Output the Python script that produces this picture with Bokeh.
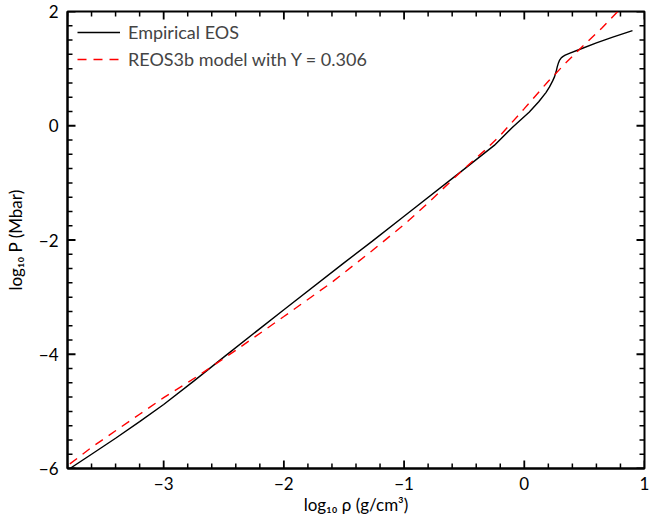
from bokeh.plotting import figure
from bokeh.models import LinearAxis, Range1d, FixedTicker, Legend, LegendItem, ColumnDataSource
from bokeh.embed import file_html
from bokeh.resources import INLINE

# Empirical EOS (black solid)
emp_logrho = [-3.78, -3.6, -3.4, -3.2, -3.0, -2.75, -2.5, -2.0, -1.5, -1.264, -1.0, -0.5, -0.25,
              -0.1, 0.04, 0.12, 0.18, 0.21, 0.236, 0.252, 0.264, 0.274, 0.284, 0.294,
              0.306, 0.32, 0.34, 0.38, 0.458, 0.6, 0.736, 0.9]
emp_logP = [-6.0, -5.75, -5.47, -5.18, -4.88, -4.47, -4.05, -3.22, -2.40, -2.02, -1.585, -0.76, -0.344,
            -0.03, 0.235, 0.42, 0.58, 0.68, 0.785, 0.86, 0.94, 1.03, 1.10, 1.15,
            1.185, 1.21, 1.235, 1.27, 1.335, 1.45, 1.55, 1.665]

# REOS3b model with Y = 0.306 (red dashed)
reos_logrho = [-3.78, -3.6, -3.4, -3.2, -3.0, -2.7, -2.4, -2.0, -1.6, -1.264, -1.0, -0.8,
               -0.5, -0.333, -0.2, 0.0, 0.2, 0.35, 0.5, 0.65, 0.8, 0.9]
reos_logP = [-5.92, -5.63, -5.34, -5.05, -4.76, -4.36, -3.93, -3.34, -2.74, -2.184, -1.73, -1.35,
             -0.75, -0.44, -0.17, 0.30, 0.78, 1.11, 1.42, 1.72, 2.05, 2.27]

x_ticks = [-3, -2, -1, 0, 1]
y_ticks = [-6, -4, -2, 0, 2]
x_minor = [round(-3.8 + 0.2 * i, 2) for i in range(25)]
y_minor = [round(-6 + 0.25 * i, 2) for i in range(33)]

X0, X1, Y0, Y1 = -3.8, 1.0, -6.0, 2.0
FONT = "Lato"
FW, FH = 577, 457          # frame size in px
MAJ, MIN = 8, 5            # inward tick lengths in px

p = figure(output_backend="svg", toolbar_location=None,
           frame_width=FW, frame_height=FH,
           x_range=Range1d(X0, X1), y_range=Range1d(Y0, Y1),
           x_axis_location=None, y_axis_location=None,
           min_border_left=67, min_border_right=7, min_border_top=11, min_border_bottom=50)
p.grid.visible = False
p.outline_line_color = "black"
p.outline_line_width = 2
p.background_fill_color = "white"
p.border_fill_color = "white"


def style_axis(ax):
    ax.axis_line_color = "black"
    ax.axis_line_width = 2
    ax.major_tick_in = 0
    ax.major_tick_out = 0
    ax.minor_tick_in = 0
    ax.minor_tick_out = 0
    ax.major_label_text_font = FONT
    ax.major_label_text_font_size = "17px"
    ax.major_label_text_color = "black"
    ax.axis_label_text_font = FONT
    ax.axis_label_text_font_size = "17px"
    ax.axis_label_text_font_style = "normal"
    ax.axis_label_text_color = "black"


xb = LinearAxis(ticker=FixedTicker(ticks=x_ticks, minor_ticks=[]), axis_label="log₁₀ ρ (g/cm³)")
style_axis(xb)
xb.major_label_standoff = 8
xb.axis_label_standoff = 1
xb.major_label_overrides = {-3: "−3", -2: "−2", -1: "−1"}
p.add_layout(xb, "below")

yl = LinearAxis(ticker=FixedTicker(ticks=y_ticks, minor_ticks=[]), axis_label="log₁₀ P (Mbar)")
style_axis(yl)
yl.major_label_standoff = 9
yl.axis_label_standoff = 10
yl.major_label_overrides = {-6: "−6", -4: "−4", -2: "−2"}
p.add_layout(yl, "left")

# inward tick marks on all four sides, placed from the tick arrays
dxp = (X1 - X0) / FW
dyp = (Y1 - Y0) / FH
xmin_only = [t for t in x_minor if t not in x_ticks]
ymin_only = [t for t in y_minor if t not in y_ticks]

for ticks, ln, w in ((x_ticks, MAJ, 1.8), (xmin_only, MIN, 1.5)):
    n = len(ticks)
    for yb, sgn in ((Y0, 1), (Y1, -1)):
        src = ColumnDataSource(dict(x0=ticks, y0=[yb] * n, x1=ticks, y1=[yb + sgn * ln * dyp] * n))
        p.segment(x0="x0", y0="y0", x1="x1", y1="y1", source=src, line_color="black", line_width=w)
for ticks, ln, w in ((y_ticks, MAJ, 1.8), (ymin_only, MIN, 1.5)):
    n = len(ticks)
    for xb_, sgn in ((X0, 1), (X1, -1)):
        src = ColumnDataSource(dict(x0=[xb_] * n, y0=ticks, x1=[xb_ + sgn * ln * dxp] * n, y1=ticks))
        p.segment(x0="x0", y0="y0", x1="x1", y1="y1", source=src, line_color="black", line_width=w)

r1 = p.line(emp_logrho, emp_logP, line_color="black", line_width=1.4)
r2 = p.line(reos_logrho, reos_logP, line_color="#ff0000", line_width=1.4, line_dash="9 7")

legend = Legend(items=[LegendItem(label="Empirical EOS", renderers=[r1]),
                       LegendItem(label="REOS3b model with Y = 0.306", renderers=[r2])],
                location="top_left", border_line_color=None, background_fill_alpha=0,
                label_text_font=FONT, label_text_font_size="18px", glyph_width=43,
                glyph_height=22, label_height=22, label_standoff=8, spacing=5,
                padding=5, margin=10)
p.add_layout(legend)

open("out.html", "w").write(file_html(p, INLINE))
